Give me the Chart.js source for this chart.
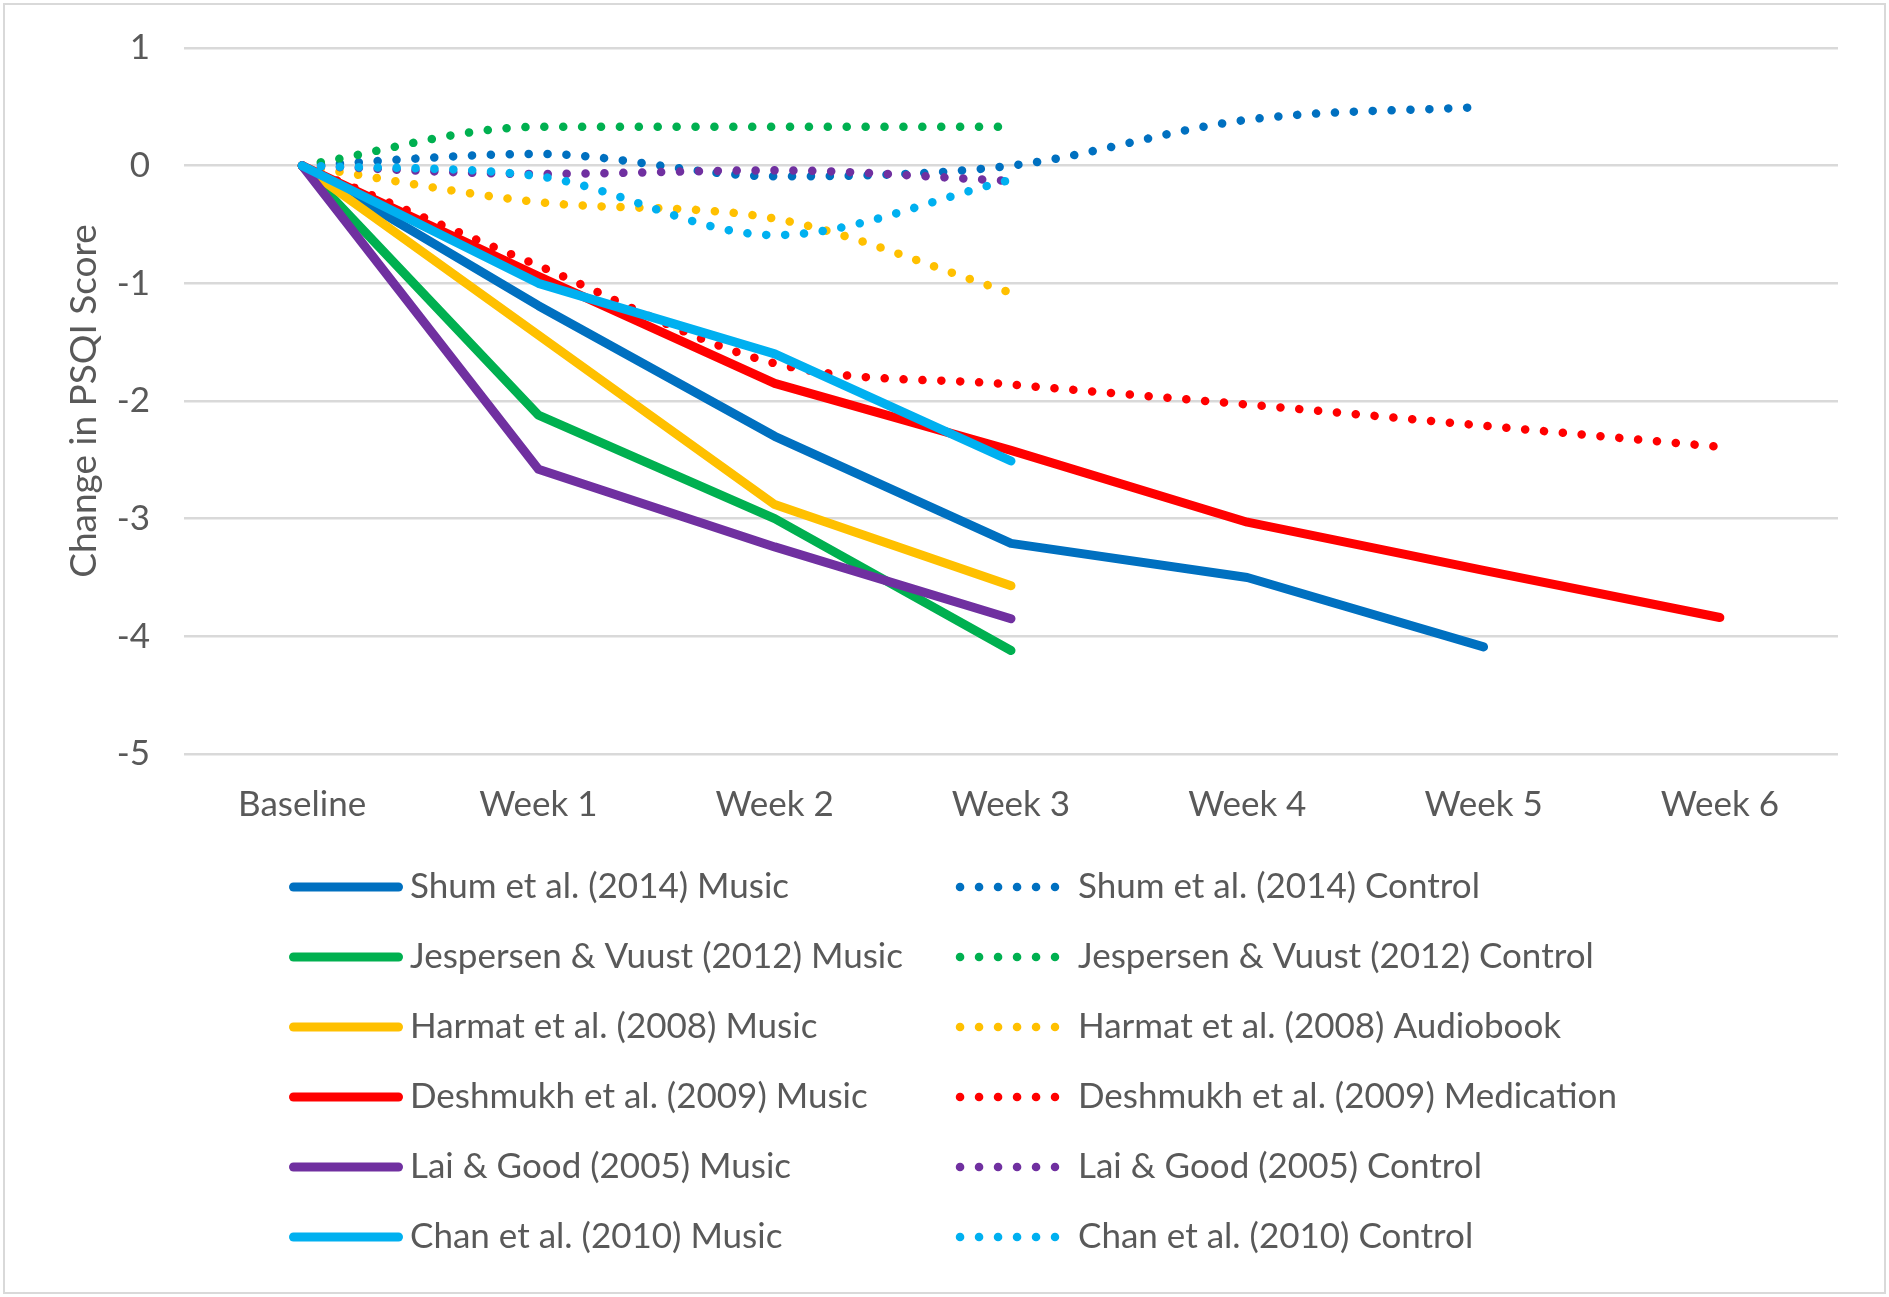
<!DOCTYPE html>
<html>
<head>
<meta charset="utf-8">
<title>Change in PSQI Score</title>
<script src="https://cdn.jsdelivr.net/npm/chart.js@4.4.1/dist/chart.umd.min.js"></script>
<style>
  html, body { margin: 0; padding: 0; background: #fff; }
  canvas { position: absolute; left: 0; top: 0; }
  #frame {
    position: absolute; left: 3px; top: 3px; width: 1883px; height: 1291px;
    border: 2px solid #d9d9d9; box-sizing: border-box; pointer-events: none;
  }
</style>
</head>
<body>
<canvas id="psqiChart" width="1889" height="1297"></canvas>
<div id="frame"></div>
<script>
// x categories
const weeks = ['Baseline', 'Week 1', 'Week 2', 'Week 3', 'Week 4', 'Week 5', 'Week 6'];

// y ticks run from -5 to 1
const yMin = -5;
const yMax = 1;

// change in PSQI score
const shumMusic        = [0, -1.19, -2.30, -3.21, -3.50, -4.09, null];
const shumControl      = [0, 0.10, -0.09, 0.00, 0.39, 0.50, null];
const jespersenMusic   = [0, -2.12, -3.00, -4.12, null, null, null];
const jespersenControl = [0, 0.33, 0.33, 0.33, null, null, null];
const harmatMusic      = [0, -1.44, -2.88, -3.57, null, null, null];
const harmatAudiobook  = [0, -0.31, -0.45, -1.08, null, null, null];
const deshmukhMusic    = [0, -0.94, -1.85, -2.42, -3.03, -3.44, -3.84];
const deshmukhMed      = [0, -0.85, -1.68, -1.86, -2.03, -2.21, -2.39];
const laiMusic         = [0, -2.58, -3.24, -3.85, null, null, null];
const laiControl       = [0, -0.07, -0.04, -0.13, null, null, null];
const chanMusic        = [0, -1.00, -1.60, -2.51, null, null, null];
const chanControl      = [0, -0.09, -0.59, -0.12, null, null, null];

const TEXT = '#595959';
const FONT = 'Lato, "Liberation Sans", sans-serif';
const FONT_SIZE = 35;

// same order as the Excel legend (row by row), later ones drawn on top
const series = [
  { label: 'Shum et al. (2014) Music',             data: shumMusic,        color: '#0070C0', dotted: false },
  { label: 'Shum et al. (2014) Control',           data: shumControl,      color: '#0070C0', dotted: true },
  { label: 'Jespersen & Vuust (2012) Music',       data: jespersenMusic,   color: '#00B050', dotted: false },
  { label: 'Jespersen & Vuust (2012) Control',     data: jespersenControl, color: '#00B050', dotted: true },
  { label: 'Harmat et al. (2008) Music',           data: harmatMusic,      color: '#FFC000', dotted: false },
  { label: 'Harmat et al. (2008) Audiobook',       data: harmatAudiobook,  color: '#FFC000', dotted: true },
  { label: 'Deshmukh et al. (2009) Music',         data: deshmukhMusic,    color: '#FF0000', dotted: false },
  { label: 'Deshmukh et al. (2009) Medication',    data: deshmukhMed,      color: '#FF0000', dotted: true },
  { label: 'Lai & Good (2005) Music',              data: laiMusic,         color: '#7030A0', dotted: false },
  { label: 'Lai & Good (2005) Control',            data: laiControl,       color: '#7030A0', dotted: true },
  { label: 'Chan et al. (2010) Music',             data: chanMusic,        color: '#00B0F0', dotted: false },
  { label: 'Chan et al. (2010) Control',           data: chanControl,      color: '#00B0F0', dotted: true }
];

const DOT_GAP = 18.8;

const datasets = series.map((s, i) => ({
  label: s.label,
  data: s.data,
  borderColor: s.color,
  backgroundColor: s.color,
  borderWidth: s.dotted ? 8.5 : 9,
  borderDash: s.dotted ? [0.1, DOT_GAP] : [],
  borderCapStyle: 'round',
  borderJoinStyle: 'round',
  cubicInterpolationMode: s.dotted ? 'monotone' : 'default',
  tension: s.dotted ? 0.4 : 0,
  pointRadius: 0,
  fill: false,
  order: series.length - i
}));

// Excel-style legend: two columns, solid on the left, dotted on the right
const twoColLegend = {
  id: 'twoColLegend',
  afterDraw(chart) {
    const ctx = chart.ctx;
    const colX = [293.5, 960];
    const textX = [410, 1078];
    const rowY = 887, rowStep = 70;
    chart.data.datasets.forEach((ds, i) => {
      const col = i % 2;
      const y = rowY + Math.floor(i / 2) * rowStep;
      ctx.save();
      ctx.strokeStyle = ds.borderColor;
      ctx.lineWidth = ds.borderWidth;
      ctx.lineCap = 'round';
      ctx.setLineDash(col ? [0.1, 18.9] : []);
      ctx.beginPath();
      ctx.moveTo(colX[col], y);
      ctx.lineTo(colX[col] + (col ? 95 : 105), y);
      ctx.stroke();
      ctx.setLineDash([]);
      ctx.fillStyle = TEXT;
      ctx.font = FONT_SIZE + 'px ' + FONT;
      ctx.textBaseline = 'middle';
      ctx.fillText(ds.label, textX[col], y);
      ctx.restore();
    });
  }
};

new Chart(document.getElementById('psqiChart').getContext('2d'), {
  type: 'line',
  data: { labels: weeks, datasets },
  options: {
    responsive: false,
    animation: false,
    layout: { padding: { left: 0, top: 48, right: 51, bottom: 1297 - 754 - 100 } },
    plugins: { legend: { display: false }, tooltip: { enabled: false } },
    scales: {
      x: {
        offset: true,
        grid: { display: false },
        border: { display: false },
        ticks: { color: TEXT, font: { family: FONT, size: FONT_SIZE }, padding: 22, maxRotation: 0, autoSkip: false },
        afterFit(scale) { scale.height = 100; }
      },
      y: {
        min: yMin,
        max: yMax,
        ticks: { stepSize: 1, color: TEXT, font: { family: FONT, size: FONT_SIZE }, padding: 34 },
        grid: { color: '#d9d9d9', lineWidth: 2.5, drawTicks: false },
        border: { display: false },
        title: {
          display: true,
          text: 'Change in PSQI Score',
          color: TEXT,
          font: { family: FONT, size: 37 },
          padding: { top: 62, bottom: 0 }
        },
        afterFit(scale) {
          scale.width = 184;
          // tick padding would otherwise push the plot top down
          scale.paddingTop = 0;
          scale.paddingBottom = 0;
        }
      }
    }
  },
  plugins: [twoColLegend]
});
</script>
</body>
</html>
